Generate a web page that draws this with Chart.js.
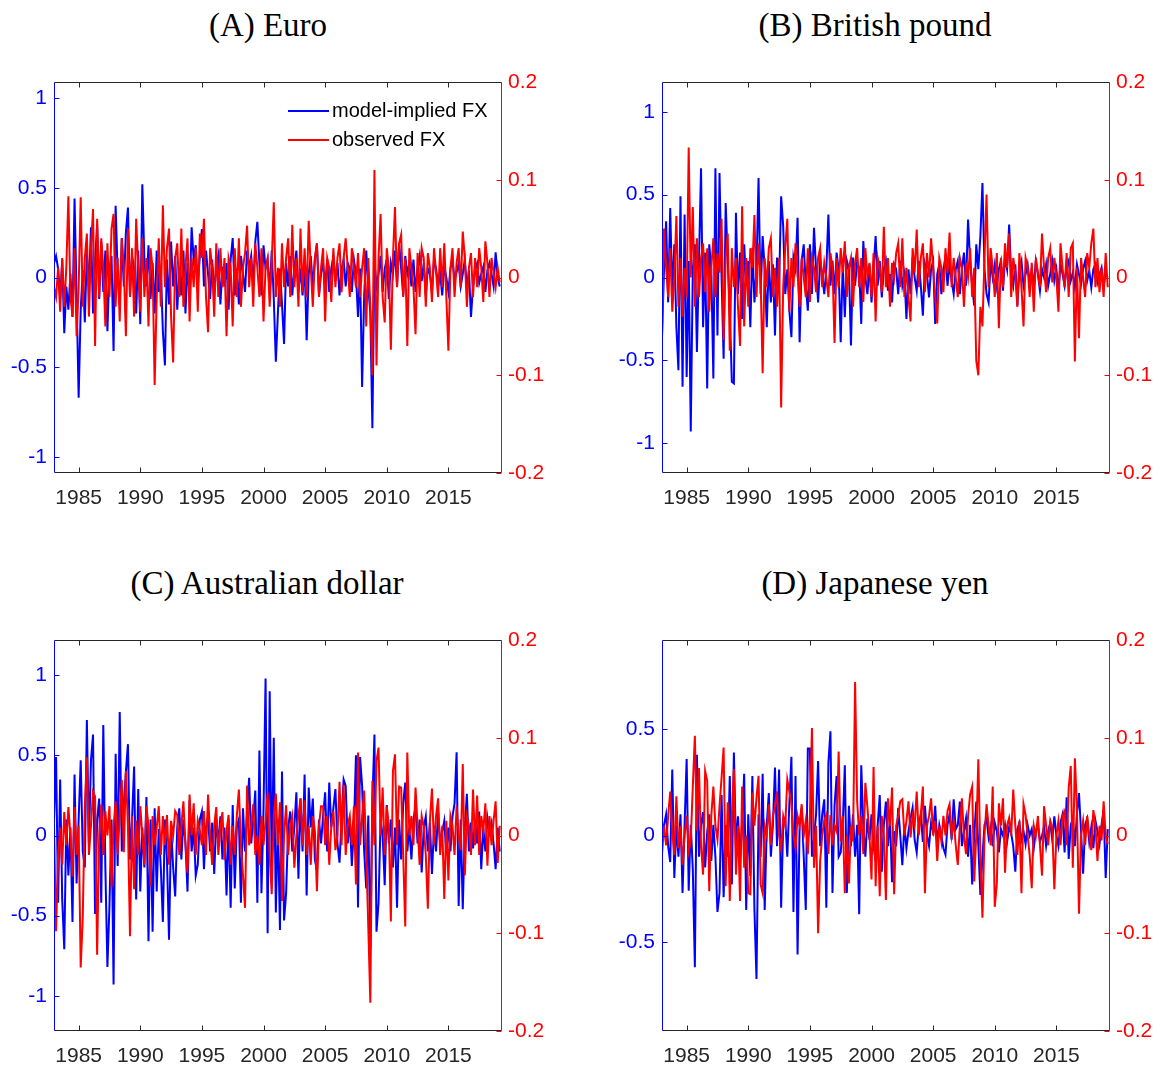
<!DOCTYPE html>
<html>
<head>
<meta charset="utf-8">
<script src="https://cdn.jsdelivr.net/npm/chart.js@4.4.1/dist/chart.umd.min.js"></script>
<style>
    body { margin: 0; background: #fff; width: 1165px; height: 1070px; overflow: hidden; position: relative; }
    canvas { position: absolute; }
    .title { position: absolute; width: 400px; text-align: center; font-family: "Liberation Serif", "Times New Roman", serif; font-size: 33px; line-height: 40px; color: #000; }
</style>
</head>
<body>

<script>
// Monthly data sampled every two months, starting Jan 1983
const startYear = 1983;
const stepYears = 2 / 12;
const xTicks = [1985, 1990, 1995, 2000, 2005, 2010, 2015];
const fxTicks = [-0.2, -0.1, 0, 0.1, 0.2];
const seriesLabels = ["model-implied FX", "observed FX"];

// (A) Euro
const euroModel = [
    0.08, 0.12, 0.05, -0.12, 0.1, -0.31, -0.05, -0.18, 0.02, -0.22, 0.44, -0.1,
    -0.67, -0.18, 0.04, -0.25, 0.14, -0.06, 0.28, -0.2, 0.08, 0.3, -0.12, 0.2,
    -0.08, 0.15, -0.3, 0.05, 0.12, -0.41, 0.40, 0.02, -0.15, 0.22, -0.05, 0.25,
    0.39, -0.1, 0.12, 0.05, -0.2, 0.15, -0.26, 0.52, 0.1, -0.05, 0.18, -0.12,
    0.08, -0.2, 0.15, -0.08, 0.05, -0.3, -0.49, 0.1, -0.15, 0.2, -0.05, 0.12,
    -0.18, 0.05, -0.1, 0.15, -0.2, 0.08, -0.12, 0.28, 0.1, 0.18, -0.05, 0.12,
    0.27, -0.05, 0.15, 0.02, -0.12, 0.1, -0.08, 0.05, 0.12, -0.15, 0.06, -0.05,
    0.08, -0.18, 0.1, 0.22, -0.1, 0.05, -0.15, 0.12, 0.02, -0.08, 0.15, 0.05,
    0.12, -0.05, 0.2, 0.31, 0.08, -0.1, 0.18, 0.05, 0.1, -0.08, 0.15, -0.12,
    -0.47, -0.2, 0.05, -0.15, -0.37, 0.08, -0.05, 0.12, -0.1, 0.05, 0.15, -0.08,
    0.05, -0.1, 0.08, -0.35, 0.02, 0.12, -0.05, 0.1, 0.19, -0.1, 0.02, 0.08,
    -0.05, 0.1, -0.08, 0.05, 0.12, -0.02, 0.08, -0.1, 0.05, 0.1, -0.05, 0.08,
    0.05, -0.08, 0.1, 0.02, -0.22, 0.05, -0.61, -0.1, 0.15, -0.05, -0.2, -0.84,
    0.1, -0.05, 0.02, 0.12, -0.08, 0.05, 0.1, -0.12, 0.08, 0.02, 0.15, -0.05,
    0.19, 0.05, -0.1, 0.12, 0.02, 0.08, -0.05, 0.1, -0.08, 0.05, 0.12, -0.02,
    0.08, -0.1, 0.05, 0.02, -0.08, 0.1, 0.05, -0.05, 0.02, -0.1, 0.06, 0.0,
    -0.08, 0.05, 0.1, -0.02, 0.03, 0.08, -0.05, 0.02, 0.1, -0.06, 0.04, -0.22,
    -0.05, 0.05, 0.08, -0.03, 0.02, 0.06, -0.08, 0.04, 0.08, 0.02, -0.05, 0.14,
    0.0, -0.05
];
const euroObserved = [
    -0.01, -0.02, 0.01, -0.035, 0.02, -0.03, 0.01, 0.083, -0.02, -0.04, 0.03, -0.06,
    -0.01, 0.082, -0.03, 0.02, 0.045, -0.04, 0.03, 0.07, -0.07, 0.06, -0.02, 0.04,
    0.01, -0.05, 0.035, -0.02, 0.05, 0.065, -0.03, 0.02, -0.045, 0.04, 0.01, -0.06,
    0.05, -0.02, 0.03, -0.04, 0.06, 0.01, -0.035, 0.04, -0.02, 0.02, -0.05, 0.03,
    0.01, -0.11, -0.02, 0.04, -0.03, 0.074, -0.01, 0.03, 0.05, -0.04, -0.087, 0.02,
    0.035, -0.02, 0.05, -0.03, 0.01, 0.04, -0.045, 0.02, -0.01, 0.03, -0.035, 0.045,
    0.02, 0.06, -0.02, -0.056, 0.03, 0.01, -0.04, 0.035, -0.02, 0.03, -0.01, 0.02,
    -0.06, 0.02, 0.01, -0.05, 0.03, -0.02, 0.04, -0.03, 0.01, 0.025, 0.053, -0.01,
    0.02, -0.03, 0.035, 0.01, -0.02, 0.03, -0.045, 0.01, 0.02, -0.03, 0.015, 0.077,
    -0.02, 0.01, -0.03, 0.035, -0.01, 0.02, 0.04, -0.02, 0.054, -0.01, 0.02, -0.03,
    0.05, -0.015, 0.03, -0.02, 0.058, 0.01, -0.03, 0.02, 0.035, -0.02, 0.01, 0.03,
    -0.045, 0.02, 0.01, -0.025, 0.03, -0.01, 0.02, 0.035, -0.015, 0.02, 0.04, 0.01,
    -0.02, 0.03, 0.01, -0.01, 0.025, -0.02, 0.01, 0.03, -0.05, 0.02, -0.03, -0.10,
    0.11, -0.09, 0.02, 0.065, -0.02, -0.046, 0.03, 0.01, -0.074, 0.02, 0.072, -0.01,
    0.035, 0.044, -0.02, 0.02, -0.07, 0.03, 0.01, -0.01, -0.058, 0.025, -0.02, 0.03,
    0.02, -0.03, 0.025, 0.01, -0.025, 0.03, 0.005, -0.02, 0.03, -0.01, 0.035, -0.02,
    -0.075, 0.01, 0.03, -0.02, 0.015, 0.03, -0.01, 0.047, 0.02, -0.03, 0.01, 0.025,
    -0.02, 0.02, -0.01, 0.03, 0.01, -0.025, 0.037, 0.015, -0.02, 0.02, 0.005, -0.01,
    0.01, -0.005
];

// (B) British pound
const gbpModel = [
    -0.35, 0.05, 0.34, -0.15, 0.42, -0.1, 0.2, -0.3, -0.56, 0.49, -0.66, 0.38,
    -0.6, 0.1, -0.93, 0.05, 0.2, -0.45, 0.1, 0.66, -0.3, 0.15, -0.67, 0.2,
    0.05, -0.61, 0.66, -0.35, 0.63, 0.0, -0.49, 0.45, 0.1, -0.2, -0.63, -0.64,
    0.39, -0.1, 0.15, -0.25, 0.2, -0.05, 0.1, -0.3, 0.18, -0.15, 0.05, 0.6,
    -0.1, 0.25, 0.05, -0.3, 0.1, -0.15, 0.08, -0.35, 0.12, -0.05, 0.49, 0.31,
    -0.1, 0.05, -0.2, -0.36, 0.12, 0.05, 0.36, -0.39, 0.1, 0.2, -0.05, -0.2,
    0.2, -0.1, 0.3, 0.05, -0.15, 0.1, 0.02, -0.1, 0.05, 0.38, -0.05, 0.1,
    -0.1, 0.15, 0.05, -0.39, 0.08, -0.24, 0.1, 0.05, -0.41, 0.12, -0.05, 0.1,
    0.05, -0.28, 0.22, 0.0, -0.1, 0.08, -0.15, 0.05, 0.25, -0.05, 0.1, -0.12,
    0.05, 0.1, -0.08, 0.02, -0.15, 0.08, 0.05, -0.1, 0.1, -0.05, 0.02, -0.25,
    0.05, -0.1, 0.12, 0.0, -0.08, 0.1, -0.05, -0.23, 0.08, 0.02, -0.12, 0.05,
    0.1, -0.28, 0.02, 0.08, -0.1, 0.05, 0.12, -0.05, 0.08, -0.02, -0.1, 0.05,
    0.1, -0.1, 0.05, 0.15, -0.05, 0.35, 0.1, -0.05, -0.17, 0.2, 0.05, 0.25,
    0.57, 0.05, -0.1, -0.15, 0.1, 0.0, 0.08, -0.05, 0.05, 0.1, -0.08, 0.12,
    0.05, 0.32, 0.02, -0.05, 0.08, -0.17, 0.05, 0.1, -0.05, 0.02, 0.08, -0.03,
    0.05, -0.05, 0.1, 0.02, -0.08, 0.05, 0.0, 0.08, -0.05, 0.02, 0.1, -0.02,
    0.05, -0.08, 0.08, 0.02, -0.05, 0.06, 0.1, -0.02, 0.03, -0.06, 0.08, 0.02,
    -0.04, 0.05, 0.1, -0.02, 0.04, -0.06, 0.05, 0.08, -0.03, 0.02, 0.06, -0.05,
    0.02, 0.0
];
const gbpObserved = [
    -0.063, 0.05, 0.01, -0.02, 0.03, -0.035, 0.0, 0.063, -0.03, 0.02, -0.04, 0.01,
    -0.02, 0.133, 0.0, 0.072, -0.03, 0.04, -0.02, 0.02, 0.035, -0.015, 0.03, -0.035,
    0.01, 0.04, -0.02, 0.025, 0.005, 0.06, -0.064, 0.02, 0.045, -0.075, 0.03, -0.01,
    0.02, -0.03, -0.07, 0.073, -0.05, 0.02, -0.03, 0.03, 0.01, 0.064, -0.02, 0.035,
    0.0, -0.098, 0.02, -0.01, 0.03, 0.04, -0.02, 0.01, -0.03, 0.02, -0.133, -0.01,
    0.03, 0.06, -0.035, 0.02, -0.01, 0.035, 0.005, -0.03, 0.02, 0.0, -0.02, 0.03,
    -0.025, 0.02, 0.01, -0.015, 0.02, 0.03, -0.01, 0.015, 0.0, -0.02, 0.025, 0.01,
    -0.067, 0.02, -0.01, 0.03, 0.005, 0.037, -0.02, 0.01, 0.02, -0.03, 0.015, 0.03,
    -0.01, 0.02, -0.025, 0.03, 0.0, 0.015, -0.02, 0.025, -0.045, 0.02, 0.01, -0.015,
    0.052, -0.01, 0.02, -0.03, 0.015, 0.0, 0.025, 0.035, -0.01, 0.04, -0.02, 0.01,
    -0.02, -0.045, 0.03, 0.005, 0.049, -0.01, 0.02, 0.035, -0.015, 0.025, 0.0, 0.04,
    0.01, -0.02, -0.047, 0.02, 0.01, -0.015, 0.03, 0.005, 0.046, -0.01, 0.02, 0.0,
    -0.02, 0.02, 0.01, -0.03, 0.015, 0.0, 0.03, -0.02, 0.01, -0.085, -0.10, -0.03,
    -0.05, 0.02, 0.085, -0.01, 0.03, 0.01, -0.02, 0.025, -0.052, 0.02, -0.01, 0.035,
    0.01, 0.045, -0.02, 0.02, 0.005, -0.03, 0.025, -0.01, -0.05, 0.02, 0.01, -0.02,
    0.015, -0.035, 0.02, 0.005, -0.01, 0.045, 0.01, -0.015, 0.02, 0.03, -0.005, 0.02,
    0.0, -0.035, 0.035, 0.01, -0.01, 0.025, -0.02, 0.03, 0.035, -0.086, 0.01, -0.062,
    0.02, 0.0, -0.02, 0.025, 0.01, 0.035, 0.05, -0.01, 0.02, -0.015, 0.01, -0.02,
    0.025, -0.01
];

// (C) Australian dollar
const audModel = [
    0.1, 0.49, -0.42, 0.35, -0.4, -0.71, 0.1, -0.25, 0.05, -0.54, 0.38, -0.3,
    0.1, 0.47, -0.1, -0.2, 0.72, -0.05, 0.47, 0.63, -0.49, 0.1, 0.23, -0.42,
    0.69, -0.2, -0.82, -0.44, 0.1, -0.93, 0.51, -0.19, 0.77, -0.1, 0.2, 0.4,
    0.57, -0.15, 0.1, 0.43, -0.4, 0.29, -0.35, 0.05, -0.2, 0.24, -0.66, 0.1,
    -0.6, 0.17, -0.35, 0.04, -0.2, -0.54, 0.1, -0.15, -0.65, 0.05, -0.2, -0.38,
    0.05, 0.17, -0.15, 0.1, -0.05, -0.35, 0.22, -0.1, 0.05, -0.25, -0.18, 0.1,
    0.15, -0.21, 0.05, 0.12, -0.1, 0.08, -0.24, 0.1, -0.05, 0.12, -0.15, 0.05,
    -0.375, 0.1, -0.45, 0.19, -0.33, 0.05, 0.1, -0.42, 0.17, -0.1, 0.15, 0.36,
    -0.05, 0.1, 0.28, -0.42, 0.53, -0.36, 0.16, 0.98, -0.61, 0.9, -0.21, 0.61,
    -0.48, 0.1, -0.59, 0.4, -0.53, -0.36, 0.05, 0.15, -0.1, 0.05, 0.27, -0.27,
    0.23, -0.1, 0.38, -0.375, 0.3, 0.05, 0.23, -0.15, -0.22, 0.1, -0.05, 0.12,
    0.27, -0.1, 0.33, 0.05, 0.17, 0.29, -0.05, -0.17, 0.1, 0.35, 0.31, -0.05,
    0.1, -0.19, 0.05, 0.5, -0.45, 0.49, 0.31, -0.1, -0.33, 0.125, -0.7, 0.2,
    0.63, -0.6, -0.42, 0.1, 0.0, -0.31, 0.19, -0.05, 0.1, -0.2, 0.05, -0.45,
    0.1, -0.15, 0.2, 0.33, -0.1, 0.05, -0.15, 0.1, 0.18, -0.05, 0.1, -0.23,
    0.05, 0.12, -0.1, 0.08, -0.24, 0.05, -0.1, 0.15, -0.05, 0.02, 0.09, -0.12,
    0.05, -0.1, 0.12, 0.2, 0.52, -0.44, 0.1, -0.46, 0.05, 0.26, -0.1, 0.08,
    -0.08, 0.1, -0.05, 0.15, -0.21, 0.05, -0.1, 0.11, 0.02, 0.08, -0.05, -0.21,
    0.05, -0.1
];
const audObserved = [
    0.01, -0.098, -0.02, 0.008, -0.03, 0.024, -0.01, 0.029, 0.0, -0.042, 0.029, -0.02,
    0.01, -0.135, -0.084, 0.03, 0.08, -0.02, 0.01, 0.045, 0.04, -0.122, 0.0, 0.032,
    -0.02, 0.025, 0.0, 0.03, -0.053, 0.01, 0.035, -0.02, 0.02, 0.057, -0.017, 0.066,
    0.01, -0.103, 0.02, -0.055, 0.015, -0.02, 0.03, 0.0, -0.03, 0.03, 0.01, -0.052,
    0.02, -0.01, 0.008, 0.03, -0.02, 0.02, -0.01, 0.021, -0.03, 0.015, 0.0, 0.025,
    0.021, -0.02, 0.01, 0.035, -0.01, -0.038, 0.042, 0.0, 0.033, -0.02, 0.015, 0.005,
    -0.01, 0.025, -0.02, 0.042, 0.0, -0.03, 0.01, 0.029, -0.02, 0.01, 0.024, -0.025,
    0.005, 0.021, -0.03, 0.01, -0.02, 0.02, 0.047, -0.01, -0.04, -0.074, 0.051, -0.01,
    0.01, 0.032, -0.02, 0.0, -0.03, 0.02, -0.01, 0.015, 0.044, -0.02, -0.06, 0.02,
    0.043, -0.01, 0.034, -0.067, 0.0, 0.031, -0.02, 0.01, 0.02, -0.033, 0.0, 0.02,
    0.038, -0.01, 0.036, -0.02, 0.01, -0.03, 0.02, 0.005, -0.057, 0.01, 0.03, 0.03,
    -0.01, 0.02, -0.03, 0.01, 0.025, -0.015, 0.0, 0.055, -0.01, 0.052, -0.02, 0.01,
    0.02, -0.01, 0.03, -0.05, 0.085, -0.01, 0.02, 0.046, -0.02, -0.093, -0.171, 0.056,
    -0.01, 0.076, 0.09, 0.0, 0.049, -0.02, 0.03, 0.01, -0.088, 0.066, 0.083, -0.01,
    0.05, 0.049, -0.02, -0.093, 0.085, 0.0, 0.02, -0.01, 0.049, 0.01, -0.03, 0.02,
    0.01, -0.02, -0.075, 0.015, 0.048, -0.01, 0.02, 0.038, -0.02, 0.01, -0.065, 0.015,
    -0.046, 0.02, 0.01, -0.02, 0.03, 0.0, -0.015, 0.073, -0.041, 0.02, 0.01, -0.02,
    0.047, -0.01, 0.041, -0.02, 0.02, 0.005, 0.033, -0.031, 0.02, -0.01, 0.015, 0.035,
    -0.028, 0.01
];

// (D) Japanese yen
const jpyModel = [
    0.0, 0.05, 0.1, -0.05, -0.125, 0.31, -0.2, 0.05, -0.1, 0.1, -0.27, 0.05,
    0.36, -0.26, 0.05, -0.16, -0.62, 0.38, -0.1, 0.05, 0.11, -0.15, 0.016, 0.1,
    -0.12, 0.05, -0.1, -0.36, -0.27, 0.19, -0.29, 0.05, -0.1, 0.28, -0.23, 0.39,
    -0.05, 0.09, -0.1, 0.05, 0.29, -0.35, 0.1, -0.19, 0.28, -0.35, -0.675, 0.1,
    -0.1, 0.29, -0.35, 0.05, 0.2, -0.1, 0.05, 0.32, -0.05, 0.31, -0.34, 0.05,
    0.08, -0.1, 0.15, 0.37, -0.36, 0.28, -0.56, 0.05, 0.13, -0.1, -0.35, 0.41,
    0.41, -0.1, -0.016, 0.1, 0.35, -0.05, 0.1, 0.17, -0.34, 0.34, 0.49, -0.27,
    0.14, 0.28, -0.1, -0.08, 0.05, 0.33, -0.27, 0.14, -0.05, 0.1, -0.1, 0.05,
    -0.37, 0.33, 0.05, -0.1, 0.08, -0.02, 0.1, -0.05, -0.12, 0.05, 0.19, -0.17,
    0.05, 0.16, -0.05, 0.08, -0.22, 0.02, -0.05, 0.13, 0.0, -0.14, 0.05, -0.06,
    0.02, 0.08, 0.13, -0.02, -0.08, 0.05, 0.1, -0.03, 0.14, 0.0, -0.05, 0.06,
    0.02, 0.14, -0.04, 0.05, 0.0, -0.06, -0.09, 0.05, 0.1, -0.02, 0.17, 0.03,
    0.05, 0.16, -0.05, 0.02, 0.08, -0.1, 0.05, -0.23, 0.0, 0.16, -0.05, -0.28,
    -0.1, 0.05, 0.08, -0.01, 0.04, -0.05, 0.06, 0.02, -0.08, 0.03, 0.0, 0.05,
    -0.03, 0.04, 0.01, -0.05, -0.17, 0.03, 0.06, -0.02, 0.02, -0.04, 0.05, 0.0,
    0.03, -0.06, 0.02, 0.05, -0.03, 0.0, 0.04, -0.05, 0.02, 0.06, -0.02, 0.09,
    0.0, -0.05, 0.06, 0.1, -0.08, 0.18, -0.11, 0.05, 0.08, -0.05, 0.1, 0.2,
    0.02, -0.18, 0.05, 0.08, -0.03, 0.04, -0.06, 0.07, 0.02, -0.04, 0.05, 0.12,
    -0.2, 0.03
];
const jpyObserved = [
    -0.019, 0.01, -0.01, 0.02, 0.045, 0.005, -0.02, 0.04, -0.013, 0.01, -0.03, 0.0,
    0.02, -0.016, -0.005, 0.05, 0.102, 0.005, 0.069, -0.01, -0.04, 0.066, 0.056, -0.057,
    0.02, 0.05, 0.01, -0.004, 0.03, 0.059, 0.09, -0.052, 0.034, -0.067, 0.02, 0.068,
    -0.04, 0.01, -0.067, 0.05, -0.033, 0.0, -0.059, -0.06, 0.044, 0.01, 0.038, 0.061,
    -0.05, -0.059, 0.01, 0.0, 0.032, -0.01, 0.02, 0.03, 0.045, 0.0, -0.014, 0.02,
    0.01, 0.057, 0.045, 0.032, 0.0, -0.013, 0.02, 0.01, 0.032, 0.0, 0.015, -0.019,
    0.02, 0.11, -0.033, 0.01, -0.1, -0.026, 0.0, 0.015, 0.021, -0.019, 0.021, -0.01,
    0.01, 0.004, 0.086, -0.006, 0.02, -0.059, 0.0, -0.049, 0.01, -0.006, 0.157, 0.035,
    0.0, 0.02, -0.019, 0.054, 0.029, 0.0, -0.045, 0.07, -0.052, 0.01, -0.062, 0.02,
    0.0, -0.066, 0.038, 0.01, 0.049, -0.06, 0.01, 0.02, 0.035, 0.037, 0.0, 0.015,
    0.035, -0.002, 0.02, 0.01, 0.045, 0.0, 0.021, 0.05, -0.059, 0.01, 0.02, 0.038,
    0.0, 0.015, -0.026, 0.01, -0.006, 0.02, 0.0, 0.025, 0.032, 0.0, 0.015, -0.01,
    -0.03, 0.01, 0.038, 0.0, -0.019, 0.02, 0.042, 0.05, -0.047, 0.001, 0.078, -0.02,
    -0.084, 0.0, 0.032, 0.01, -0.01, 0.05, -0.073, -0.049, 0.033, 0.01, 0.038, -0.038,
    0.01, 0.018, 0.0, 0.047, 0.01, -0.02, 0.015, -0.059, 0.032, 0.021, 0.0, -0.02,
    -0.054, 0.01, 0.0, 0.02, -0.01, -0.041, 0.03, 0.01, -0.01, 0.015, 0.008, -0.055,
    0.0, 0.015, -0.01, 0.02, 0.025, -0.01, 0.049, 0.071, -0.033, 0.079, 0.028, -0.08,
    0.0, 0.015, -0.01, 0.02, 0.0, -0.015, 0.026, 0.01, -0.026, 0.01, -0.005, 0.035,
    0.0, -0.009
];

const panels = [
    { title: "(A) Euro", model: euroModel, observed: euroObserved, modelLimit: 1.09, modelTicks: [-1, -0.5, 0, 0.5, 1], left: 0, top: 0, titleCenter: 268, legend: true },
    { title: "(B) British pound", model: gbpModel, observed: gbpObserved, modelLimit: 1.18, modelTicks: [-1, -0.5, 0, 0.5, 1], left: 608, top: 0, titleCenter: 875 },
    { title: "(C) Australian dollar", model: audModel, observed: audObserved, modelLimit: 1.22, modelTicks: [-1, -0.5, 0, 0.5, 1], left: 0, top: 558, titleCenter: 267 },
    { title: "(D) Japanese yen", model: jpyModel, observed: jpyObserved, modelLimit: 0.92, modelTicks: [-0.5, 0, 0.5], left: 608, top: 558, titleCenter: 875 }
];

const BLUE = "#0000ff";
const RED = "#ff0000";
const GRAY = "#262626";

Chart.defaults.font.family = '"Liberation Sans", Arial, sans-serif';

function toPoints(values) {
    return values.map((v, i) => ({ x: startYear + i * stepYears, y: v }));
}

// MATLAB-style box with inward tick marks
const framePlugin = {
    id: "frame",
    afterDraw(chart) {
        const { ctx, chartArea: a, scales } = chart;
        const L = Math.round(a.left) + 0.5, R = Math.round(a.right) - 0.5;
        const T = Math.round(a.top) + 0.5, B = Math.round(a.bottom) - 0.5;
        const seg = (c, x1, y1, x2, y2) => {
            ctx.strokeStyle = c;
            ctx.beginPath();
            ctx.moveTo(x1, y1);
            ctx.lineTo(x2, y2);
            ctx.stroke();
        };
        ctx.save();
        ctx.lineWidth = 1;
        scales.x.ticks.forEach(t => {
            const px = Math.round(scales.x.getPixelForValue(t.value)) + 0.5;
            seg(GRAY, px, B, px, B - 5);
            seg(GRAY, px, T, px, T + 5);
        });
        scales.y.ticks.forEach(t => {
            const py = Math.round(scales.y.getPixelForValue(t.value)) + 0.5;
            seg(BLUE, L, py, L + 5, py);
        });
        scales.y1.ticks.forEach(t => {
            const py = Math.round(scales.y1.getPixelForValue(t.value)) + 0.5;
            seg(RED, R, py, R - 5, py);
        });
        seg(GRAY, L, T, R, T);
        seg(GRAY, L, B, R, B);
        seg(BLUE, L, T, L, B);
        seg(RED, R, T, R, B);
        ctx.restore();
    }
};

// legend drawn inside the plot area (top right)
const innerLegendPlugin = {
    id: "innerLegend",
    afterDraw(chart, args, opts) {
        if (!opts.display) return;
        const ctx = chart.ctx;
        ctx.save();
        ctx.font = '20px "Liberation Sans", Arial, sans-serif';
        ctx.textBaseline = "middle";
        chart.data.datasets.forEach((ds, i) => {
            const y = opts.y + i * opts.rowGap;
            ctx.strokeStyle = ds.borderColor;
            ctx.lineWidth = 2;
            ctx.beginPath();
            ctx.moveTo(opts.x, y);
            ctx.lineTo(opts.x + 41, y);
            ctx.stroke();
            ctx.fillStyle = "#000";
            ctx.fillText(ds.label, opts.x + 44, y);
        });
        ctx.restore();
    }
};

function buildPanel(p) {
    const title = document.createElement("div");
    title.className = "title";
    title.textContent = p.title;
    title.style.left = (p.titleCenter - 200) + "px";
    title.style.top = (p.top + 5) + "px";
    document.body.appendChild(title);

    const canvas = document.createElement("canvas");
    canvas.width = 560;
    canvas.height = 511;
    canvas.style.left = p.left + "px";
    canvas.style.top = p.top + "px";
    document.body.appendChild(canvas);

    const tickFont = { size: 21 };
    const noGrid = { display: false, drawTicks: false, tickLength: 0 };

    new Chart(canvas, {
        type: "line",
        data: {
            datasets: [
                {
                    label: seriesLabels[0],
                    data: toPoints(p.model),
                    yAxisID: "y",
                    borderColor: BLUE,
                    borderWidth: 2,
                    pointRadius: 0,
                    tension: 0,
                    order: 1
                },
                {
                    label: seriesLabels[1],
                    data: toPoints(p.observed),
                    yAxisID: "y1",
                    borderColor: RED,
                    borderWidth: 2,
                    pointRadius: 0,
                    tension: 0,
                    order: 0
                }
            ]
        },
        options: {
            responsive: false,
            animation: false,
            devicePixelRatio: 1,
            layout: { padding: { top: 82, left: 0, right: 0, bottom: 0 } },
            plugins: {
                legend: { display: false },
                tooltip: { enabled: false },
                innerLegend: { display: !!p.legend, x: 288, y: 111, rowGap: 29 }
            },
            scales: {
                x: {
                    type: "linear",
                    min: 1983,
                    max: 2019.35,
                    grid: noGrid,
                    border: { display: false },
                    afterBuildTicks: s => { s.ticks = xTicks.map(v => ({ value: v })); },
                    afterFit: s => { s.height = 38; },
                    ticks: { color: GRAY, padding: 13, font: tickFont, maxRotation: 0, autoSkip: false, callback: v => String(v) }
                },
                y: {
                    position: "left",
                    min: -p.modelLimit,
                    max: p.modelLimit,
                    grid: noGrid,
                    border: { display: false },
                    afterBuildTicks: s => { s.ticks = p.modelTicks.map(v => ({ value: v })); },
                    afterFit: s => { s.width = 54; },
                    ticks: { color: BLUE, padding: 7, font: tickFont, callback: v => String(v) }
                },
                y1: {
                    position: "right",
                    min: -0.2,
                    max: 0.2,
                    grid: noGrid,
                    border: { display: false },
                    afterBuildTicks: s => { s.ticks = fxTicks.map(v => ({ value: v })); },
                    afterFit: s => { s.width = 58; },
                    ticks: { color: RED, padding: 6, font: tickFont, callback: v => String(v) }
                }
            }
        },
        plugins: [framePlugin, innerLegendPlugin]
    });
}

panels.forEach(buildPanel);
</script>
</body>
</html>
